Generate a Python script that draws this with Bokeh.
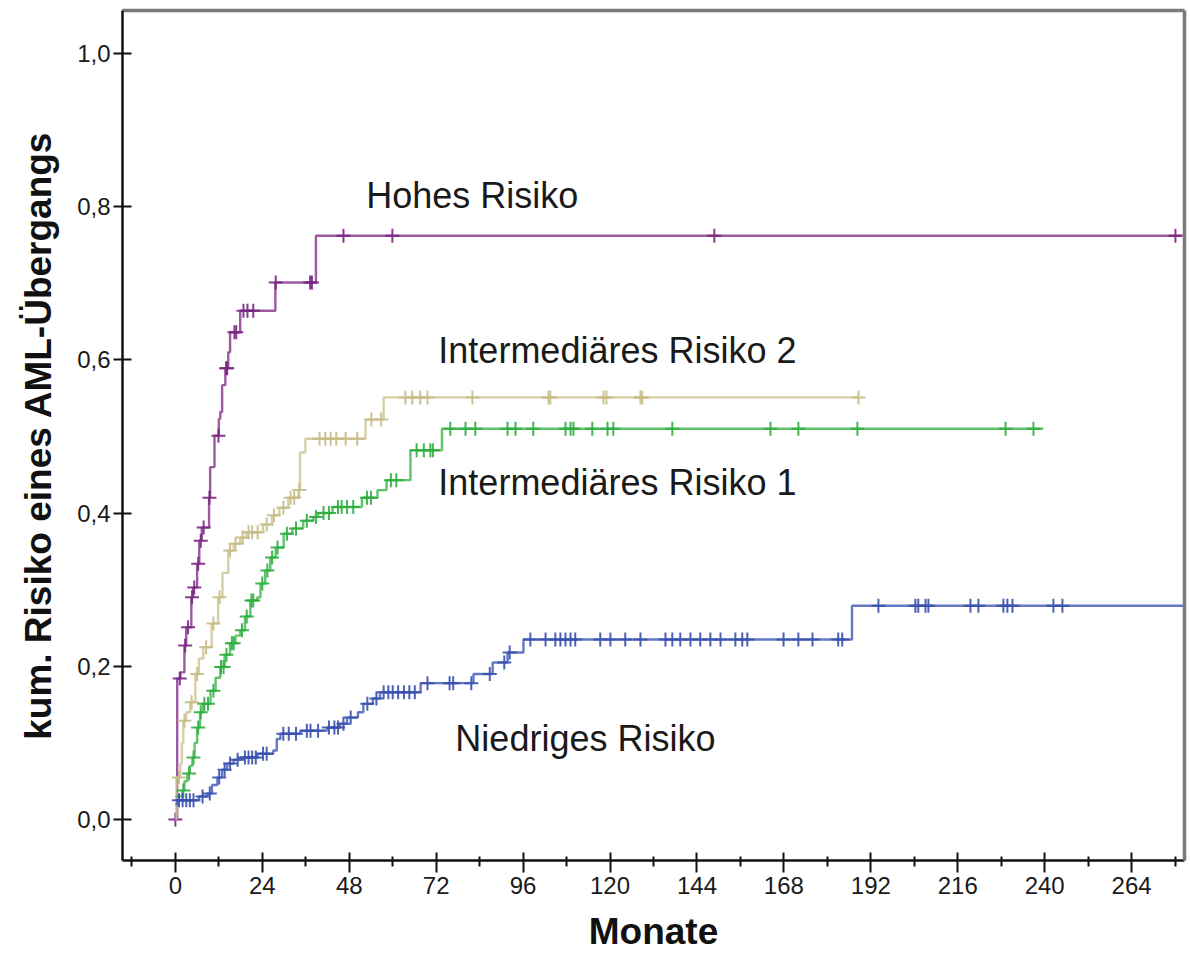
import numpy as np
from bokeh.plotting import figure
from bokeh.models import FixedTicker, CustomJSTickFormatter, LinearAxis, Range1d, ColumnDataSource
from bokeh.core.properties import value
from bokeh.embed import file_html
from bokeh.resources import INLINE

# ---------------- data (months, cumulative risk) ----------------
high_t = [0, 0.5, 1.4, 2.5, 3.0, 4.4, 4.9, 6.0, 6.6, 7.3, 9.3, 9.6, 10.8, 12.0, 12.4, 12.9,
          13.8, 14.6, 15.1, 17.9, 27.6, 38.8]
high_y = [0.0, 0.184, 0.192, 0.227, 0.251, 0.29, 0.303, 0.334, 0.364, 0.381, 0.42, 0.46,
          0.501, 0.523, 0.532, 0.567, 0.589, 0.61, 0.636, 0.664, 0.701, 0.762]
high_end = 278
high_cens = [0, 1.2, 2.7, 3.5, 4.6, 5.2, 6.3, 7.0, 7.8, 9.4, 11.9, 14.0, 14.3, 16.3, 16.8,
             18.8, 19.9, 21.5, 27.7, 37.2, 37.7, 46.4, 59.9, 148.8, 276.1]

ir2_t = [0, 0.3, 1.4, 1.8, 2.2, 3.0, 4.1, 5.5, 6.5, 7.7, 10.0, 11.8, 13.0, 14.6, 16.1, 17.9,
         19.6, 24.2, 26.7, 28.7, 31.2, 34.0, 34.4, 35.9, 52.5, 57.5]
ir2_y = [0.0, 0.055, 0.073, 0.1, 0.129, 0.14, 0.153, 0.19, 0.21, 0.225, 0.256, 0.29, 0.322,
         0.351, 0.36, 0.368, 0.375, 0.385, 0.397, 0.407, 0.42, 0.43, 0.479, 0.497, 0.522, 0.551]
ir2_end = 188.6
ir2_cens = [1.0, 2.5, 4.5, 6.0, 8.5, 10.5, 12.2, 15.1, 16.6, 18.6, 20.2, 21.2, 22.7, 25.2,
            27.2, 29.8, 31.8, 32.8, 34.2, 39.8, 41.4, 42.9, 44.4, 47.0, 50.2, 54.1, 56.8,
            63.5, 65.4, 67.6, 69.6, 82.0, 103.0, 103.5, 118.2, 119.0, 128.4, 128.9, 188.6]

ir1_t = [0, 1.9, 2.5, 3.3, 4.0, 4.7, 5.3, 6.0, 6.8, 7.7, 9.7, 11.1, 12.4, 13.6, 15.1, 16.6,
         17.9, 19.2, 20.7, 22.6, 23.5, 24.8, 26.2, 27.7, 29.9, 32.3, 35.3, 38.1, 39.4, 43.4,
         51.5, 55.8, 58.3, 64.9, 73.6]
ir1_y = [0.03, 0.038, 0.05, 0.06, 0.07, 0.081, 0.1, 0.12, 0.14, 0.151, 0.168, 0.185, 0.199,
         0.215, 0.23, 0.24, 0.247, 0.265, 0.286, 0.29, 0.308, 0.325, 0.342, 0.355, 0.373,
         0.38, 0.39, 0.395, 0.4, 0.408, 0.42, 0.43, 0.443, 0.482, 0.51]
ir1_end = 239.6
ir1_cens = [2.2, 3.8, 5.0, 6.3, 7.0, 8.0, 9.0, 10.5, 12.6, 13.3, 14.1, 15.6, 16.1, 18.4, 19.7,
            21.0, 21.5, 24.0, 25.4, 26.7, 28.2, 30.8, 33.3, 36.3, 38.8, 40.9, 42.4, 44.9,
            45.9, 47.4, 49.1, 52.9, 54.0, 59.5, 61.0, 66.6, 68.6, 70.4, 71.1, 75.9, 80.1,
            82.8, 91.7, 93.9, 98.8, 107.7, 109.1, 109.9, 115.1, 119.3, 120.9, 137.2, 164.3,
            172.0, 188.3, 229.2, 236.9]

low_t = [0, 0.5, 6.5, 8.8, 10.1, 11.6, 12.9, 14.3, 16.1, 18.0, 22.6, 27.0, 28.0, 29.0, 34.5,
         41.9, 45.4, 47.4, 50.4, 51.9, 54.5, 56.5, 67.7, 82.3, 87.6, 91.7, 96.1, 186.8]
low_y = [0.02, 0.025, 0.03, 0.034, 0.045, 0.055, 0.065, 0.073, 0.078, 0.081, 0.086, 0.09,
         0.105, 0.112, 0.116, 0.12, 0.125, 0.133, 0.14, 0.151, 0.158, 0.166, 0.178, 0.19,
         0.205, 0.218, 0.235, 0.279]
low_end = 279
low_cens = [1.0, 2.0, 3.0, 4.0, 5.0, 7.5, 9.5, 12.1, 13.6, 15.1, 17.2, 19.2, 20.2, 21.2, 22.2,
            24.2, 25.2, 29.8, 31.3, 33.3, 36.3, 37.3, 39.4, 42.4, 43.9, 44.9, 46.4, 48.4,
            53.0, 55.5, 57.5, 58.8, 60.0, 61.5, 63.1, 64.6, 66.1, 69.6, 75.7, 76.7, 81.7,
            86.8, 90.8, 92.3, 98.0, 102.2, 104.9, 106.3, 107.7, 109.1, 110.4, 117.3, 120.1,
            124.2, 128.4, 135.3, 137.2, 139.4, 142.2, 144.9, 147.7, 150.5, 154.6, 156.5,
            157.9, 167.9, 172.0, 175.9, 183.0, 184.1, 194.1, 204.3, 205.1, 207.1, 207.9,
            219.5, 221.7, 228.6, 229.7, 231.1, 242.4, 244.9]

x_ticks = [0, 24, 48, 72, 96, 120, 144, 168, 192, 216, 240, 264]
x_minor = [-12, 12, 36, 60, 84, 108, 132, 156, 180, 204, 228, 252, 276]
y_ticks = [0.0, 0.2, 0.4, 0.6, 0.8, 1.0]

series = [
    ("Hohes Risiko", high_t, high_y, high_end, high_cens, "#8A3D92", "#7A2582"),
    ("Intermediäres Risiko 2", ir2_t, ir2_y, ir2_end, ir2_cens, "#CFC696", "#C7BC86"),
    ("Intermediäres Risiko 1", ir1_t, ir1_y, ir1_end, ir1_cens, "#45BA52", "#2FAE40"),
    ("Niedriges Risiko", low_t, low_y, low_end, low_cens, "#4A60B8", "#3850AE"),
]

labels = ["Hohes Risiko", "Intermediäres Risiko 2", "Intermediäres Risiko 1", "Niedriges Risiko"]
label_x = [52.7, 72.6, 72.6, 77.3]
label_y = [0.815, 0.612, 0.44, 0.106]

# ---------------- figure ----------------
p = figure(width=1188, height=969,
           x_range=Range1d(-14.6, 278.6), y_range=Range1d(-0.0535, 1.056),
           output_backend="svg", toolbar_location=None,
           min_border_left=122, min_border_right=4, min_border_top=10, min_border_bottom=109)
p.background_fill_color = "white"
p.border_fill_color = "white"
p.outline_line_color = None
p.xgrid.visible = False
p.ygrid.visible = False

FONT = "Liberation Sans"

for name, t, y, tend, cens, lc, mc in series:
    t = np.asarray(t, float)
    y = np.asarray(y, float)
    xs = np.append(t, tend)
    ys = np.append(y, y[-1])
    p.step(xs, ys, mode="after", line_color=lc, line_width=2.4, line_alpha=0.85)
    c = np.asarray(cens, float)
    idx = np.searchsorted(t, c, side="right") - 1
    cy = y[np.clip(idx, 0, len(y) - 1)]
    p.scatter(c, cy, marker="cross", size=14, line_color=mc, line_width=2, line_alpha=0.9)

src = ColumnDataSource(dict(x=label_x, y=label_y, t=labels))
p.text(x="x", y="y", text="t", source=src, text_font=value(FONT), text_font_size="36px",
       text_color="#1a1a1a", text_align="left", text_baseline="middle")

# x axis
xa = p.xaxis[0]
xa.ticker = FixedTicker(ticks=x_ticks, minor_ticks=x_minor)
xa.axis_label = "Monate"
xa.axis_label_text_font = FONT
xa.axis_label_text_font_style = "bold"
xa.axis_label_text_font_size = "37px"
xa.axis_label_text_color = "#111111"
xa.axis_label_standoff = 14
xa.major_label_text_font = FONT
xa.major_label_text_font_size = "24px"
xa.major_label_text_color = "#1a1a1a"
xa.major_label_standoff = 4
xa.axis_line_color = "#111111"
xa.axis_line_width = 2.5
xa.major_tick_in = 8
xa.major_tick_out = 12
xa.major_tick_line_width = 2
xa.major_tick_line_color = "#111111"
xa.minor_tick_in = 4
xa.minor_tick_out = 6
xa.minor_tick_line_width = 2
xa.minor_tick_line_color = "#111111"

# y axis
ya = p.yaxis[0]
ya.ticker = FixedTicker(ticks=y_ticks, minor_ticks=[])
ya.formatter = CustomJSTickFormatter(code="return tick.toFixed(1).replace('.', ',');")
ya.axis_label = "kum. Risiko eines AML-Übergangs"
ya.axis_label_text_font = FONT
ya.axis_label_text_font_style = "bold"
ya.axis_label_text_font_size = "37px"
ya.axis_label_text_color = "#111111"
ya.axis_label_standoff = 15
ya.major_label_text_font = FONT
ya.major_label_text_font_size = "24px"
ya.major_label_text_color = "#1a1a1a"
ya.major_label_standoff = 3
ya.axis_line_color = "#111111"
ya.axis_line_width = 2.5
ya.major_tick_in = 9
ya.major_tick_out = 9
ya.major_tick_line_width = 2
ya.major_tick_line_color = "#111111"
ya.minor_tick_line_color = None

# gray frame on top and right
for loc in ("above", "right"):
    ax = LinearAxis(ticker=FixedTicker(ticks=[]), axis_line_color="#7a7a7a", axis_line_width=3.5,
                    major_tick_in=0, major_tick_out=0, minor_tick_in=0, minor_tick_out=0,
                    major_label_standoff=0, major_tick_line_color=None,
                    minor_tick_line_color=None, major_label_text_font_size="0px")
    p.add_layout(ax, loc)

open("out.html", "w").write(file_html(p, INLINE))
